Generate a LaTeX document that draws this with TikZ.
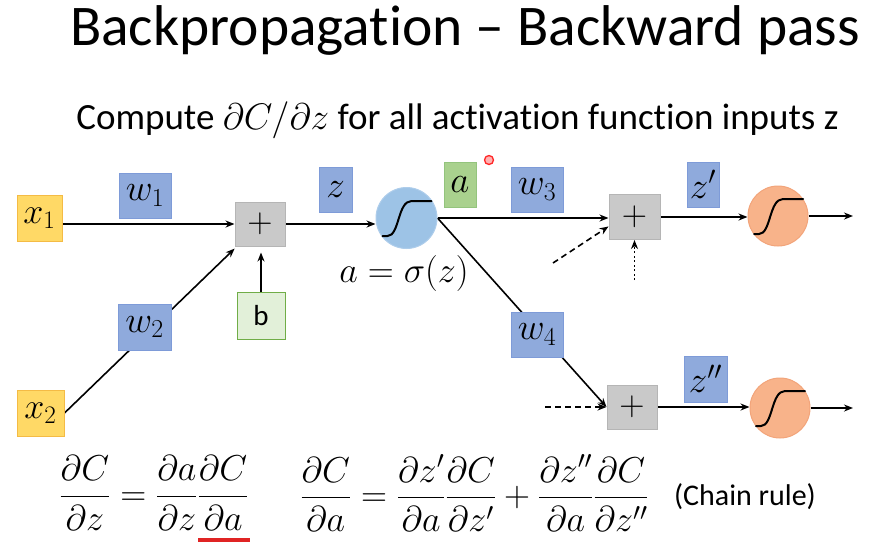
\RequirePackage{fix-cm}
\documentclass[tikz,border=0pt]{standalone}
\usepackage[no-math]{fontspec}
\setmainfont{Carlito}[Ligatures=NoCommon]
\usetikzlibrary{arrows.meta,backgrounds}
\definecolor{orfill}{HTML}{FFD966}
\definecolor{ordraw}{HTML}{F4BB45}
\definecolor{blfill}{HTML}{8FAADC}
\definecolor{bldraw}{HTML}{7E9BD8}
\definecolor{grfill}{HTML}{C9C9C9}
\definecolor{grdraw}{HTML}{B5B5B5}
\definecolor{bfill}{HTML}{E2F0D9}
\definecolor{bdraw}{HTML}{70AD47}
\definecolor{afill}{HTML}{A9D18E}
\definecolor{adraw}{HTML}{93C47D}
\definecolor{s1fill}{HTML}{9DC3E6}
\definecolor{s1draw}{HTML}{AECDEB}
\definecolor{s2fill}{HTML}{F8B38A}
\definecolor{s2draw}{HTML}{F2A47A}
\definecolor{ulred}{HTML}{E02424}
\begin{document}
\begin{tikzpicture}[x=1pt,y=-1pt,
  mathbig/.style={font=\fontsize{36}{40}\selectfont},
  inbox/.style={draw=ordraw, fill=orfill, line width=1pt, inner sep=0pt, font=\fontsize{36}{38}\selectfont},
  wbox/.style={draw=bldraw, fill=blfill, line width=1pt, inner sep=0pt, minimum width=52pt, minimum height=45pt, font=\fontsize{37}{39}\selectfont},
  plusbox/.style={draw=grdraw, fill=grfill, line width=1pt, inner sep=0pt, minimum width=50pt, minimum height=44pt, font=\fontsize{35}{37}\selectfont},
  bbox/.style={draw=bdraw, fill=bfill, line width=1pt, inner sep=0pt, minimum width=48pt, minimum height=47pt, font=\fontsize{29}{31}\selectfont},
  abox/.style={draw=adraw, fill=afill, line width=1pt, inner sep=0pt, minimum width=32pt, minimum height=45pt, font=\fontsize{37}{39}\selectfont},
  sigblue/.style={circle, draw=s1draw, fill=s1fill, line width=1pt, minimum size=61pt, inner sep=0pt},
  sigorange/.style={circle, draw=s2draw, fill=s2fill, line width=1pt, minimum size=60pt, inner sep=0pt},
  curve/.style={line width=2pt, line cap=round},
  conn/.style={line width=1.6pt, -{Stealth[length=9pt,width=7pt]}},
  dashline/.style={dash pattern=on 6pt off 4pt},
  dotline/.style={dash pattern=on 2pt off 2.5pt}
]
\useasboundingbox (0,0) rectangle (873,542);

% titles
\node[anchor=base, font=\fontsize{57.5}{60}\selectfont] (title) at (465,45) {Backpropagation – Backward pass};
\node[anchor=base, font=\fontsize{37}{39}\selectfont] (sub) at (457.5,129) {Compute $\partial C/\partial z$ for all activation function inputs z};

% nodes
\node[inbox, minimum width=45pt, minimum height=46pt] (x1) at (39.5,218) {$x_1$};
\node[inbox, minimum width=47pt, minimum height=46pt] (x2) at (40.5,413) {$x_2$};
\node[wbox] (w1) at (145,195.5) {$w_1$};
\node[wbox, minimum width=53pt, minimum height=46pt] (w2) at (144.5,327) {$w_2$};
\node[plusbox] (p1) at (260,224) {$+$};
\node[bbox] (b) at (261,315.5) {b};
\node[wbox, minimum width=33pt] (z) at (335.5,189.5) {$z$};
\node[sigblue] (s1) at (406.5,218) {};
\node[font=\fontsize{36}{38}\selectfont] (sg) at (404,273) {$a=\sigma(z)$};
\node[abox] (a) at (460,184.5) {$a$};
\node[wbox] (w3) at (537,189.5) {$w_3$};
\node[plusbox, minimum width=51pt, minimum height=45pt] (p2) at (634.5,217) {$+$};
\node[wbox, minimum width=32pt] (z1) at (703,184.5) {$z'$};
\node[sigorange] (s2) at (778,216) {};
\node[wbox] (w4) at (537,334.5) {$w_4$};
\node[plusbox] (p3) at (632,407) {$+$};
\node[wbox, minimum width=43pt, minimum height=46pt] (z2) at (705.5,379) {$z''$};
\node[sigorange] (s3) at (780,408) {};

% pointer dot
\node[circle, draw=red!85, fill=red!30, line width=1.3pt, minimum size=9pt, inner sep=0pt] (dot) at (489,160) {};

% sigmoid curves
\foreach \s in {s1,s2,s3}{
  \draw[curve, shift={(\s.center)}] (-24,18) -- (-19,18) .. controls (-7,18) and (-9,-17) .. (5,-17) -- (25,-17);
}

% free ends
\coordinate (o2) at (853,216);
\coordinate (o3) at (853,408);
\coordinate (d2) at (553,263);
\coordinate (dt) at (634.5,280);
\coordinate (d3) at (545,407);

\begin{pgfonlayer}{background}
\draw[conn] (x1.east |- p1.west) -- (p1.west);
\draw[conn, shorten >=3pt] (x2.east) -- (p1);
\draw[conn, shorten >=6pt] (b.north) -- (b.north |- p1.south);
\draw[conn] (p1.east) -- (p1.east -| s1.west);
\draw[conn] (s1.east) -- (s1.east -| p2.west);
\draw[conn] (s1.east) -- (p3.west);
\draw[conn] (p2.east) -- (p2.east -| s2.west);
\draw[conn] (s2.east) -- (o2);
\draw[conn] (p3.east) -- (p3.east -| s3.west);
\draw[conn] (s3.east) -- (o3);
\draw[conn, dashline] (d2) -- (p2.200);
\draw[conn, dotline] (dt) -- (p2.south);
\draw[conn, dashline] (d3) -- (p3.west);
\end{pgfonlayer}

% formulas
\node[mathbig] (eq1) at (154,493) {$\displaystyle \frac{\partial C}{\partial z}=\frac{\partial a}{\partial z}\frac{\partial C}{\partial a}$};
\node[mathbig] (eq2) at (474.5,493) {$\displaystyle \frac{\partial C}{\partial a}=\frac{\partial z'}{\partial a}\frac{\partial C}{\partial z'}+\frac{\partial z''}{\partial a}\frac{\partial C}{\partial z''}$};
\node[font=\fontsize{30}{32}\selectfont] (chain) at (745,497) {(Chain rule)};
\node[fill=ulred, minimum width=52pt, minimum height=4pt, inner sep=0pt] (ul) at (224,540) {};
\end{tikzpicture}
\end{document}
